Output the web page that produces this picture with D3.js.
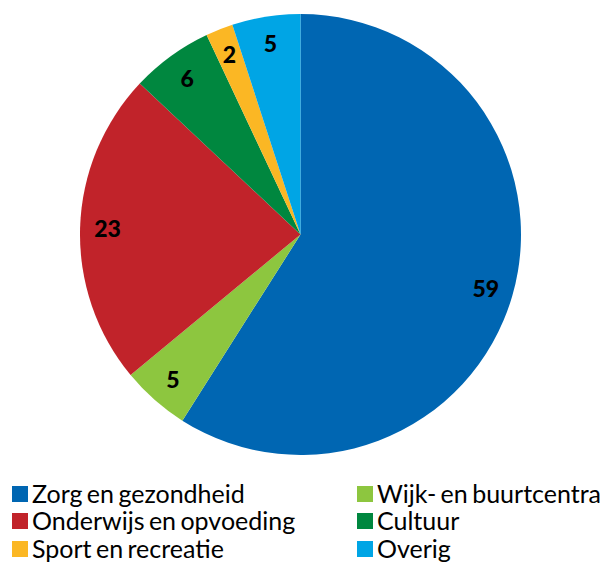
<!DOCTYPE html>
<html><head><meta charset="utf-8">
<script src="https://cdn.jsdelivr.net/npm/d3@7"></script>
<style>body{margin:0;background:#fff}svg{display:block}</style>
</head><body>
<svg id="c" width="607" height="563"></svg>
<script>
const categories = ["Zorg en gezondheid","Wijk- en buurtcentra","Onderwijs en opvoeding","Cultuur","Sport en recreatie","Overig"];
const values = [59,5,23,6,2,5];
const colors = ["#0066b2","#8dc63f","#c1232a","#00873f","#fbb724","#00a5e5"];
const legendOrder = [0,1,2,3,4,5];

const svg = d3.select("#c");
const cx = 300.5, cy = 234.5, R = 220.5, LR = 193;
const pie = d3.pie().sort(null).value(d => d)(values);
const arc = d3.arc().innerRadius(0).outerRadius(R);
const larc = d3.arc().innerRadius(LR).outerRadius(LR);
const g = svg.append("g").attr("transform", `translate(${cx},${cy})`);
g.selectAll("path").data(pie).join("path").attr("d", arc).attr("fill", (d,i) => colors[i]);
g.selectAll("text").data(pie).join("text")
  .attr("transform", d => `translate(${larc.centroid(d)})`)
  .attr("text-anchor","middle").attr("dy","0.36em")
  .style("font-family","Lato, sans-serif").style("font-weight","900").style("font-size","23px")
  .text(d => d.data);

const lg = svg.append("g");
const colX = [12, 357], rowY = [494, 521, 549];
legendOrder.forEach((k, i) => {
  const x = colX[i % 2], y = rowY[Math.floor(i / 2)];
  lg.append("rect").attr("x", x).attr("y", y - 8).attr("width", 16).attr("height", 16).attr("fill", colors[k]);
  lg.append("text").attr("x", x + 20).attr("y", y).attr("dy","0.36em")
    .style("font-family","Lato, sans-serif").style("font-size","25px").style("word-spacing","-2px").attr("fill","#000")
    .text(categories[k]);
});
</script>
</body></html>
